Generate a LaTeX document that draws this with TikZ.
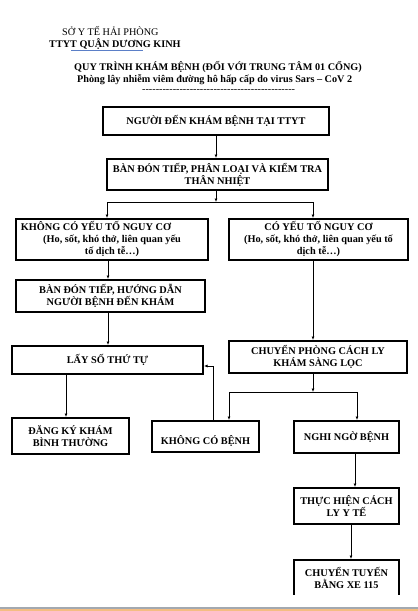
\documentclass[tikz,border=0pt]{standalone}
\usepackage{fontspec}
\setmainfont{Liberation Serif}
\usetikzlibrary{arrows.meta,calc,positioning}
\definecolor{FlowInk}{HTML}{000000}
\definecolor{FlowSpell}{HTML}{5B7FC7}
\definecolor{FlowFrame}{HTML}{A3A9B0}
\definecolor{FlowBar}{HTML}{F4BD82}
\tikzset{
  every node/.style={text=FlowInk, font=\fontsize{10.2}{12}\selectfont},
  stepbox/.style={draw=FlowInk, line width=2pt, fill=white, align=center, inner sep=1pt, font=\fontsize{10.3}{12}\selectfont\bfseries},
  heading/.style={anchor=base west, inner sep=0pt},
  link/.style={-{Latex[length=3.5pt,width=3pt]}, draw=FlowInk, line width=0.8pt},
  wire/.style={draw=FlowInk, line width=0.8pt},
}

\begin{document}
\begin{tikzpicture}[x=1pt,y=-1pt]
  \useasboundingbox[fill=white] (0,0) rectangle (418,611);
  % Heading
  \node[heading] (office) at (62,35) {SỞ Y TẾ HẢI PHÒNG};
  \node[heading, font=\fontsize{10.2}{12}\selectfont\bfseries] (centre) at (49,47) {TTYT QUẬN DƯƠNG KINH};
  \draw[FlowSpell, line width=0.8pt] (71,50) -- (143,50);
  \node[heading, font=\fontsize{10.2}{12}\selectfont\bfseries] (title) at (74,70) {QUY TRÌNH KHÁM BỆNH (ĐỐI VỚI TRUNG TÂM 01 CỔNG)};
  \node[heading, font=\fontsize{10.2}{12}\selectfont\bfseries] (subtitle) at (77,82) {Phòng lây nhiễm viêm đường hô hấp cấp do virus Sars – CoV 2};
  \node[heading] (rule) at (142,92) {\foreach \i in {1,...,45}{-}};
  % Steps
  \node[stepbox, minimum width=226pt, minimum height=28pt] (arrive) at (216,121) {NGƯỜI ĐẾN KHÁM BỆNH TẠI TTYT};
  \node[stepbox, minimum width=221pt, minimum height=31pt] (triage) at (217.5,174.5) {BÀN ĐÓN TIẾP, PHÂN LOẠI VÀ KIỂM TRA\\THÂN NHIỆT};
  \node[stepbox, minimum width=192pt, minimum height=41pt] (noRisk) at (112,239.5) {KHÔNG CÓ YẾU TỐ NGUY CƠ\hspace*{32pt}\\(Ho, sốt, khó thở, liên quan yếu\\tố dịch tễ…)};
  \node[stepbox, minimum width=179pt, minimum height=41pt] (risk) at (318.5,239.5) {CÓ YẾU TỐ NGUY CƠ\\(Ho, sốt, khó thở, liên quan yếu tố\\dịch tễ…)};
  \node[stepbox, minimum width=189pt, minimum height=32pt] (guide) at (110.5,296) {BÀN ĐÓN TIẾP, HƯỚNG DẪN\\NGƯỜI BỆNH ĐẾN KHÁM};
  \node[stepbox, minimum width=191pt, minimum height=28pt] (queue) at (107.5,360) {LẤY SỐ THỨ TỰ};
  \node[stepbox, minimum width=178pt, minimum height=32pt] (isolate) at (318,357) {CHUYỂN PHÒNG CÁCH LY\\KHÁM SÀNG LỌC};
  \node[stepbox, minimum width=117pt, minimum height=36pt] (register) at (70.5,436) {ĐĂNG KÝ KHÁM\\BÌNH THƯỜNG};
  \node[stepbox, minimum width=107pt, minimum height=31pt] (healthy) at (205.5,436.5) {\raisebox{-5pt}[\height][\depth]{KHÔNG CÓ BỆNH}};
  \node[stepbox, minimum width=105pt, minimum height=32pt] (suspect) at (346.5,437) {NGHI NGỜ BỆNH};
  \node[stepbox, minimum width=105pt, minimum height=36pt] (quarantine) at (346.5,506) {THỰC HIỆN CÁCH\\LY Y TẾ};
  \begin{scope}
    \clip (0,0) rectangle (418,594.5);
    \node[stepbox, minimum width=105pt, minimum height=36pt] (transfer) at (346.5,578) {CHUYỂN TUYẾN\\BẰNG XE 115};
  \end{scope}
  % Columns and forks
  \coordinate (colA) at (108,0);
  \coordinate (colB) at (66,0);
  \coordinate (colC) at (313,0);
  \coordinate (colE) at (355,0);
  \coordinate (colF) at (351,0);
  \coordinate (forkTop) at (216,202);
  \coordinate (forkTopL) at (107,202);
  \coordinate (forkTopR) at (313,202);
  \coordinate (forkLow) at (313,392);
  \coordinate (forkLowL) at (229,392);
  \coordinate (forkLowR) at (357,392);
  \coordinate (backTurn) at (213,366);
  % Connectors
  \draw[link] (arrive.south) -- (arrive.south |- triage.north);
  \draw[link] (triage.south -| forkTop) -- (forkTop);
  \draw[wire] (forkTopL) -- (forkTopR);
  \draw[link] (forkTopL) -- (forkTopL |- noRisk.north);
  \draw[link] (forkTopR) -- (forkTopR |- risk.north);
  \draw[link] (noRisk.south -| colA) -- (guide.north -| colA);
  \draw[link] (guide.south -| colA) -- (queue.north -| colA);
  \draw[link] (queue.south -| colB) -- (register.north -| colB);
  \draw[link] (risk.south -| colC) -- (isolate.north -| colC);
  \draw[link] (isolate.south -| forkLow) -- (forkLow);
  \draw[wire] (forkLowL) -- (forkLowR);
  \draw[link] (forkLowL) -- (forkLowL |- healthy.north);
  \draw[link] (forkLowR) -- (forkLowR |- suspect.north);
  \draw[link] (healthy.north -| backTurn) -- (backTurn) -- (queue.east |- backTurn);
  \draw[link] (suspect.south -| colE) -- (quarantine.north -| colE);
  \draw[link] (quarantine.south -| colF) -- (transfer.north -| colF);
  % Window edge
  \fill[FlowFrame] (0,607) rectangle (418,609);
  \fill[FlowBar] (0,609) rectangle (418,611);
\end{tikzpicture}
\end{document}
